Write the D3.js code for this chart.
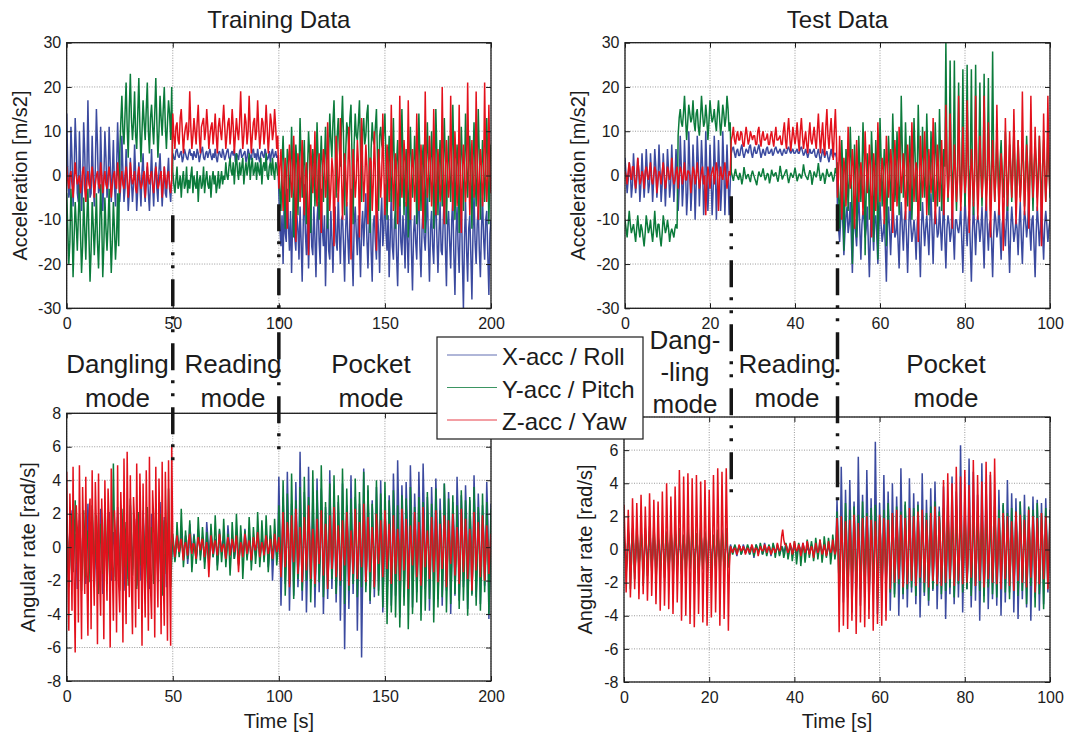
<!DOCTYPE html>
<html>
<head>
<meta charset="utf-8">
<script src="https://cdn.jsdelivr.net/npm/d3@7"></script>
<style>
  body { margin: 0; background: #fff; }
  svg { display: block; }
</style>
</head>
<body>
<svg id="chart" width="1070" height="736"></svg>
<script>
// ---- data ---------------------------------------------------------------
// training record: one sample every 0.5 s, 0..200 s
var trainStep = 0.5;
// test record: one sample every 0.25 s, 0..100 s
var testStep = 0.25;

var trainTimeTicks = [0, 50, 100, 150, 200];
var testTimeTicks = [0, 20, 40, 60, 80, 100];
var accTicks = [-30, -20, -10, 0, 10, 20, 30];
var gyroTicks = [-8, -6, -4, -2, 0, 2, 4, 6, 8];

var seriesNames = ["X-acc / Roll", "Y-acc / Pitch", "Z-acc / Yaw"];

// mode changes (s)
var trainModeBounds = [50, 100];
var testModeBounds = [25, 50];
var trainModeLabels = [["Dangling", "mode"], ["Reading", "mode"], ["Pocket", "mode"]];
var testModeLabels = [["Dang-", "-ling", "mode"], ["Reading", "mode"], ["Pocket", "mode"]];

// acceleration, training [m/s2]  (20 samples = 10 s per row)
var trainAccX = [
  14, 2, -5, -3, 11, 4, -7, 0, 13, 6, -4, -6, 10, 1, -8, -2, 12, 5, -6, -1,
  17, 3, -5, -4, 9, 0, -7, 2, 15, 7, -4, -3, 11, 1, -8, -1, 10, 4, -5, -2,
  11, 3, -6, 0, 8, -2, -7, 1, 12, 4, -6, -2, 9, 1, -6, -3, 6, 0, -8, -4,
  4, -1, -6, -2, 7, 0, -8, -3, 3, -2, -7, 1, 5, -3, -6, 0, 2, -4, -8, -1,
  6, -2, -7, 0, 3, -3, -6, 1, 5, -1, -7, -2, 2, -4, -5, 0, 4, -3, -6, -1,
  5, 4, 3.5, 5.5, 6, 4.5, 4, 5, 5.5, 3, 4, 6, 5, 4, 3.5, 5, 6, 4.5, 5, 3.5,
  5.5, 4.5, 4, 6, 5, 3, 4.5, 5.5, 6.5, 4, 3.5, 5, 5.5, 4, 5, 6, 4.5, 3.5, 5, 4,
  6, 4, 3, 5, 5.5, 4.5, 4, 6, 5, 3.5, 4.5, 5.5, 6, 4, 3.5, 5, 5.5, 4.5, 6, 3,
  5, 4.5, 3.5, 5.5, 6, 4, 4.5, 5, 5.5, 3, 4, 6, 5, 4.5, 3.5, 5.5, 6, 4, 5, 3.5,
  6, 4, 3, 5, 5.5, 4.5, 4, 6, 5, 3.5, 4, 5.5, 3, 5, 6, 4, 4.5, 5.5, 4, 4.5,
  -4, -12, -16, -9, -20, -6, -13, -15, -3, -11, -17, -8, -22, -10, -5, -14, -17, -9, -12, -19,
  -7, -15, -24, -11, -2, -13, -18, -9, -21, -12, -4, -16, -18, -7, -14, -23, -10, -6, -15, -20,
  -3, -12, -16, -9, -25, -13, -5, -17, -19, -8, -14, -22, -11, -7, -15, -17, -4, -13, -20, -10,
  -9, -16, -24, -12, -6, -14, -20, -10, -3, -17, -25, -11, -7, -13, -18, -9, -15, -23, -12, -8,
  -16, -10, -4, -14, -21, -12, -6, -17, -24, -11, -9, -15, -19, -8, -13, -22, -10, -5, -16, -12,
  -2, -13, -17, -9, -23, -14, -4, -16, -19, -10, -8, -18, -25, -12, -3, -15, -18, -9, -13, -21,
  -6, -14, -22, -11, -5, -17, -26, -13, -9, -15, -19, -8, -4, -16, -23, -12, -7, -14, -17, -10,
  -3, -15, -24, -12, -8, -16, -20, -9, -5, -14, -22, -13, -6, -17, -18, -10, -4, -16, -25, -11,
  -8, -15, -21, -10, -5, -18, -27, -13, -7, -16, -22, -11, -3, -19, -30, -14, -6, -17, -24, -12,
  -9, -18, -28, -13, -4, -15, -20, -11, -7, -17, -23, -12, -5, -14, -19, -10, -8, -18, -27, -13,
  -10
];
var trainAccY = [
  -4, -12, -20, -15, -3, -10, -23, -14, -6, -11, -17, -9, -2, -13, -22, -16, -5, -12, -19, -10,
  -3, -14, -24, -17, -6, -11, -18, -12, -4, -15, -21, -13, -2, -10, -23, -16, -5, -12, -17, -11,
  -3, -13, -22, -15, -6, -12, -19, -14, -4, -16, 5, 12, 18, 10, 7, 14, 21, 11, 4, 15,
  23, 13, 8, 12, 19, 9, 6, 14, 22, 11, 3, 10, 17, 12, 8, 15, 21, 10, 5, 13,
  16, 11, 7, 14, 22, 12, 4, 10, 18, 13, 9, 15, 20, 11, 6, 12, 17, 14, 8, 20,
  1, -2, -4, -1, 2, -3, -2, 0, -5, -1, 1, -3, -2, 2, -4, -1, -3, 0, 2, -4,
  0, -2, -3, 1, -6, -1, 0, -3, -2, 2, -4, -1, 1, -2, -3, 0, -5, -1, 1, -2,
  0, -4, -2, 1, -3, -1, 1, -2, 0, -1, 3, 0, -1, 2, 4, 1, 0, 3, -2, 2,
  5, 1, -1, 3, 0, 2, 4, -2, 1, 3, 0, 2, 5, -1, 2, 4, 0, 1, 3, -1,
  3, 1, 0, 4, -2, 2, 3, 1, 5, 0, -1, 2, 3, 0, 4, 1, -1, 3, 2, 0,
  2, -4, -8, 3, 9, 1, -12, -3, 6, 4, -6, 0, 11, 2, -14, -2, 7, 3, -9, 1,
  13, 4, -5, 2, 8, -3, -11, 1, 10, 5, -13, -1, 6, 3, -7, 0, 12, 4, -10, 2,
  9, 1, -6, 3, 11, 2, -12, 5, 14, 8, 4, 12, 17, 7, -5, 9, 13, 6, 2, 11,
  18, 8, -9, 5, 12, 10, 6, 13, 16, 4, -11, 7, 14, 9, 8, 12, 17, 5, -6, 10,
  13, 7, 9, 14, 16, 3, -13, 6, 12, 8, 7, 11, 15, 4, -8, 9, 11, 7, 6, 10,
  14, 3, -10, 2, 9, 0, -6, 4, 13, 1, -12, 3, 8, -1, -7, 2, 15, 4, -9, 1,
  6, -2, -14, 3, 11, 2, -5, 0, 9, 3, -11, 1, 14, 4, -8, 2, 7, -1, -13, 3,
  12, 2, -6, 1, 10, 3, -12, 0, 15, 5, -9, 2, 8, 0, -7, 3, 13, 2, -11, 1,
  9, 1, -6, 3, 16, 4, -10, 0, 7, 2, -13, 1, 11, 3, -8, 0, 14, 4, -5, 2,
  9, 0, -12, 3, 12, 1, -7, 2, 15, 4, -10, 0, 8, 2, -6, 1, 13, 3, -11, 2,
  7
];
var trainAccZ = [
  2, -1, -3, 0, 1, -2, -5, -1, 3, 0, -2, -1, 0, -4, -2, 1, 2, -3, -6, -1,
  1, -2, -3, 0, 2, -1, -5, -2, 0, 1, -2, -3, 3, 0, -4, -1, 1, -2, -3, 0,
  2, -1, -5, -2, 0, 1, -2, -3, 3, 0, -4, -1, 1, -2, -3, 0, 2, -1, -5, -2,
  3, 0, -2, -1, 1, -3, -4, 0, 2, -1, -3, -2, 0, 1, -5, -2, 3, -1, -2, 0,
  1, -2, -4, -1, 2, 0, -3, -2, 0, 1, -5, -2, 2, -1, -3, 0, 1, -2, -4, -1,
  14, 9, 6, 11, 12, 8, 7, 13, 15, 10, 5, 9, 11, 12, 8, 10, 19, 11, 6, 9,
  13, 10, 7, 12, 16, 9, 5, 11, 12, 13, 8, 10, 15, 11, 6, 9, 11, 12, 7, 10,
  14, 9, 5, 11, 13, 10, 8, 12, 16, 11, 6, 9, 12, 13, 7, 10, 15, 11, 5, 9,
  13, 10, 8, 12, 19, 11, 6, 9, 14, 12, 7, 10, 18, 11, 5, 9, 12, 13, 8, 10,
  17, 11, 6, 9, 13, 12, 7, 10, 16, 11, 5, 9, 14, 12, 8, 10, 15, 11, 6, 9,
  -3, 2, 6, -1, -8, 0, 4, -4, -12, 1, 7, 3, -5, -2, 9, 1, -15, -3, 5, 2,
  -6, 1, 8, -2, -9, 0, 3, -5, -18, -1, 7, 2, -4, 0, 10, -3, -7, 1, 5, -2,
  -13, 0, 6, 3, -5, -1, 12, 2, -8, -3, 4, 1, -16, -2, 9, 3, -6, 0, 13, 1,
  -10, -2, 5, 1, -7, 0, 11, 2, -19, -3, 6, 1, -5, -1, 8, 3, -14, 0, 13, 2,
  -6, -1, 7, 2, -11, 0, 4, 3, -8, -2, 10, 1, -17, -3, 6, 2, -5, 0, 14, 1,
  -9, -2, 7, 3, -6, 0, 16, 2, -8, -1, 5, 1, -11, -3, 18, 2, -5, 0, 8, 3,
  -7, -1, 17, 2, -10, 0, 6, 1, -6, -2, 14, 3, -8, 0, 7, 1, -12, -2, 19, 2,
  -5, 0, 9, 3, -7, -1, 15, 2, -9, 0, 6, 1, -6, -2, 20, 3, -11, 0, 8, 2,
  -5, -1, 18, 2, -8, 0, 10, 3, -7, -2, 16, 1, -13, 0, 7, 2, -6, -1, 21, 3,
  -9, 0, 8, 1, -5, -2, 19, 3, -10, 0, 6, 2, -7, -1, 21, 2, -6, 0, 16, 1,
  -4
];

// acceleration, test [m/s2]  (20 samples = 5 s per row)
var testAccX = [
  4, 0, -4, -1, 3, 1, -5, -2, 5, 0, -4, -1, 4, 1, -6, -2, 5, 0, -5, -1,
  6, 1, -4, -2, 5, 0, -6, -1, 6, 2, -5, -1, 7, 1, -6, -2, 5, 0, -7, -1,
  6, 1, -5, -2, 7, 0, -6, -1, 6, 1, -8, -3, 9, 2, -7, -2, 8, 1, -9, -4,
  10, 2, -8, -3, 7, 1, -10, -2, 9, 3, -7, -1, 8, 2, -9, -3, 10, 1, -8, -2,
  7, 0, -9, -3, 9, 2, -10, -2, 8, 1, -8, -3, 10, 2, -9, -1, 7, 0, -9, -2,
  5, 6, 6.5, 5, 4, 5.5, 6, 4.5, 4.5, 6, 7, 5, 4, 5, 6, 5.5, 5, 6.5, 7, 5,
  4, 5.5, 6.5, 5, 5, 6, 7, 5.5, 4, 5, 6, 5, 4.5, 6, 6.5, 5, 5, 5.5, 6, 4.5,
  5, 6, 6.5, 5.5, 5, 5.5, 6, 5, 4.5, 5.5, 6, 5, 5, 6, 6.5, 5.5, 5, 5.5, 6, 5,
  5, 5.5, 6, 5, 5, 6, 6.5, 5.5, 4.5, 5, 6, 5, 4, 5, 6, 5, 5, 5.5, 6, 4.5,
  4, 5, 6, 4.5, 3, 4.5, 6, 5, 4, 5, 5.5, 4, 3, 4.5, 6, 4.5, 4, 5, 5, 4,
  -8, -12, -15, -10, -5, -11, -18, -13, -9, -7, -13, -11, -6, -14, -22, -12, -10, -13, -16, -9,
  -4, -12, -19, -11, -8, -10, -14, -12, -7, -15, -23, -13, -5, -11, -17, -10, -9, -14, -20, -12,
  -6, -11, -15, -13, -10, -16, -24, -12, -7, -12, -18, -11, -5, -10, -14, -13, -9, -15, -21, -11,
  -6, -12, -17, -10, -8, -14, -22, -12, -5, -11, -15, -13, -10, -13, -19, -11, -7, -15, -23, -12,
  -6, -11, -16, -12, -9, -13, -18, -10, -4, -12, -20, -11, -8, -10, -14, -13, -7, -12, -17, -11,
  -5, -14, -21, -12, -9, -11, -15, -13, -6, -13, -19, -10, -10, -12, -13, -11, -7, -15, -22, -12,
  -5, -11, -16, -10, -8, -16, -24, -13, -6, -12, -18, -11, -9, -11, -15, -12, -7, -14, -21, -10,
  -5, -12, -17, -11, -10, -15, -23, -13, -8, -10, -14, -12, -6, -13, -19, -11, -9, -12, -16, -10,
  -5, -15, -22, -12, -7, -11, -15, -13, -10, -12, -18, -11, -6, -14, -20, -12, -8, -10, -14, -11,
  -5, -12, -17, -10, -9, -16, -23, -13, -7, -11, -16, -12, -6, -13, -19, -11, -8, -11, -15, -12,
  -10
];
var testAccY = [
  -10, -12, -14, -11, -8, -11, -13, -12, -11, -13, -15, -12, -9, -12, -14, -11, -12, -14, -16, -13,
  -9, -11, -13, -12, -10, -13, -15, -12, -8, -12, -14, -11, -11, -14, -16, -13, -9, -11, -13, -12,
  -10, -12, -15, -13, -12, -13, -14, -12, -11, -12, 9, 13, 15, 12, 11, 14, 18, 13, 8, 12,
  16, 14, 12, 13, 17, 12, 10, 14, 15, 11, 9, 13, 18, 14, 11, 12, 16, 13, 8, 12,
  17, 14, 12, 13, 15, 12, 10, 14, 17, 13, 9, 12, 16, 14, 11, 13, 18, 15, 10, 12,
  0.8, -0.2, -1.2, 0.3, 1.5, 0.1, -0.4, -1.0, 0.6, -0.3, -2.0, -0.6, 1.9, 0.4, -0.8, 0.0, 0.3, -0.7, -1.5, 0.2,
  1.1, 0.2, -0.6, -1.3, -2.2, -0.5, 0.9, 0.1, -0.3, 0.6, 1.6, 0.0, -1.1, -0.4, 0.5, 0.2, -1.8, -0.6, 1.3, 0.3,
  -0.2, 0.4, 0.7, -0.5, -1.4, 0.1, 2.2, 0.6, -0.9, -0.2, 0.2, 0.9, 1.4, -0.3, -1.7, -0.6, 0.6, 0.1, -0.5, 0.3,
  1.8, 0.3, -1.3, -0.4, 0.4, 0.0, -0.7, 0.5, 2.5, 0.8, -0.1, -0.5, -1.0, 0.2, 1.2, 0.4, -2.1, -0.6, 0.9, 0.1,
  -0.4, 0.9, 2.8, 0.6, -1.2, -0.3, 0.6, 0.1, -1.9, -0.5, 1.5, 0.4, -0.3, 0.2, 0.8, -0.2, -1.4, -0.3, 1.7, 0.5,
  3, -4, -12, -2, 8, 1, -17, -5, 6, 2, -8, -1, 11, 3, -20, -6, 7, 0, -14, -3,
  9, 2, -6, 0, 12, 4, -18, -4, 5, 1, -10, -2, 10, 3, -15, -3, 8, 2, -19, -5,
  13, 4, -7, -1, 6, 2, -16, -3, 9, 3, -8, 0, 14, 5, -6, -1, 10, 3, -9, -2,
  18, 6, -5, 0, 12, 4, -7, -1, 9, 2, -10, -2, 13, 5, -6, 0, 16, 4, -8, -1,
  11, 3, -5, 0, 14, 5, -9, -2, 10, 2, -6, 0, 12, 4, -7, -1, 15, 5, -8, -2,
  6, 2, 30, 3, -6, 1, 26, 2, -5, 3, 26, 0, -8, 2, 21, 1, -6, 3, 24, 2,
  -7, 1, 25, 3, -5, 2, 24, 0, -9, 1, 25, 2, -6, 3, 21, 1, -7, 2, 23, 0,
  -5, 2, 22, 1, -8, 3, 28, 2, -6, 0, 9, 1, -7, 3, 8, 0, -5, 2, 10, 1,
  -8, 0, 7, 2, -6, 3, 10, 1, -9, 2, 8, 0, -5, 1, 6, 3, -7, 0, 9, 2,
  -6, 1, 8, 0, -8, 2, 7, 3, -5, 1, 9, 0, -7, 2, 8, 1, -6, 0, 10, 2,
  -5
];
var testAccZ = [
  1, 0, -2, 1, 3, 0, -1, 2, 2, -1, -3, 0, 4, 1, -2, -1, 1, 0, -3, 1,
  2, 0, -1, 1, 3, -1, -2, 0, 2, 1, -4, -1, 1, 0, -2, 1, 3, 0, -3, -1,
  2, 1, -1, 0, 4, 0, -2, -1, 1, 2, -3, 0, 2, 1, -2, 0, 3, -1, -1, 1,
  1, 0, -4, -1, 2, 1, -2, 0, 3, 0, -3, -1, 1, 2, -2, 0, -9, -2, 2, 0,
  -3, 0, 1, 2, -2, 0, 3, 1, -8, -1, 2, 0, -1, 1, 3, 0, -3, -1, 1, 0,
  8, 9, 11, 8, 7, 9, 10, 8, 8, 10, 9.5, 7, 6.5, 9, 11, 9, 7, 8, 10, 9,
  8, 9, 9, 7, 7, 10, 11, 8, 6.5, 9, 10, 8, 8, 8.5, 9.5, 7, 7, 9, 10, 8,
  6.5, 9, 11, 8, 8, 8.5, 9, 7, 7, 10, 12, 8, 6, 10, 13, 9, 5.5, 8, 11, 9,
  7, 9, 12, 8, 5.5, 10, 13, 9, 6, 8, 10, 7, 5, 9, 12, 8, 7, 9, 11, 8,
  6, 10, 14, 9, 5, 9, 12, 7, 4.5, 11, 15, 9, 6, 10, 13, 8, 3.5, 10, 15, 8,
  -5, 0, 9, 2, -10, -3, 4, 1, -7, 0, 11, 3, -3, -1, 6, 2, -12, -4, 8, 1,
  -6, -1, 3, 0, -9, -2, 10, 3, -4, 0, 7, 2, -14, -3, 5, 1, -8, -2, 12, 3,
  -6, 0, 4, 1, -11, -2, 9, 2, -5, -1, 6, 3, -13, -3, 8, 2, -7, -1, 11, 3,
  -4, 0, 5, 1, -10, -3, 7, 2, -8, -1, 12, 3, -6, 0, 3, 1, -15, -4, 9, 2,
  -5, -1, 10, 3, -9, -2, 6, 1, -4, 0, 13, 3, -11, -3, 7, 2, -6, -1, 8, 1,
  -9, -2, 16, 3, -5, 0, 14, 2, -12, -3, 7, 1, -6, -1, 18, 3, -8, -2, 11, 2,
  -4, 0, 17, 3, -13, -3, 6, 1, -7, -1, 18, 3, -10, -2, 9, 2, -5, 0, 18, 2,
  -8, -1, 12, 2, -14, -3, 8, 1, -6, 0, 16, 3, -9, -2, 5, 1, -17, -4, 13, 2,
  -7, -1, 10, 2, -5, 0, 15, 3, -11, -3, 8, 1, -6, -1, 19, 3, -9, -2, 7, 1,
  -12, -2, 18, 3, -5, 0, 11, 2, -8, -1, 9, 2, -16, -3, 14, 2, -6, 0, 18, 2,
  -4
];

// angular rate, training [rad/s]
var trainGyroX = [
  1.5, 0.3, -2.0, -0.5, 2.2, 0.6, -1.3, 0.1, 0.8, -0.4, -2.5, -0.8, 2.0, 0.5, -1.7, -0.2, 1.2, 0.3, -2.2, -0.6,
  2.6, 0.7, -1.0, 0.2, 1.8, 0.4, -2.4, -0.7, 1.0, 0.1, -1.6, -0.3, 2.3, 0.6, -2.8, -0.9, 1.4, 0.2, -1.2, -0.1,
  2.1, 0.5, -2.0, -0.6, 0.9, 0.2, -1.8, -0.4, 2.4, 0.7, -1.5, -0.2, 1.6, 0.3, -2.6, -0.8, 1.1, 0.1, -1.9, -0.5,
  2.5, 0.6, -1.3, -0.1, 1.7, 0.4, -2.3, -0.7, 0.9, 0.2, -2.0, -0.5, 2.2, 0.5, -1.4, -0.2, 1.3, 0.3, -2.5, -0.8,
  2.0, 0.4, -1.7, -0.3, 1.5, 0.2, -2.1, -0.6, 2.7, 0.8, -1.2, -0.1, 1.8, 0.5, -2.4, -0.7, 1.2, 0.3, -1.6, -0.4,
  0.5, -0.2, -0.8, 0.1, 0.9, 0.3, -0.4, 0.0, 1.2, 0.2, -0.6, -0.1, 0.7, 0.4, -1.0, -0.3, 1.4, 0.5, -0.3, 0.1,
  0.8, 0.0, -0.7, -0.2, 1.1, 0.3, -0.5, 0.1, 0.6, -0.1, -0.9, -0.3, 1.5, 0.6, -0.4, 0.0, 0.9, 0.2, -0.6, -0.1,
  0.5, 0.1, -1.1, -0.4, 1.0, 0.3, -0.3, 0.2, 0.7, 0.0, -0.8, -0.2, 1.3, 0.4, -0.5, 0.1, 0.4, -0.1, -0.7, -0.2,
  0.9, 0.2, -1.0, -0.3, 0.6, 0.1, -0.4, 0.0, 1.1, 0.3, -0.6, -0.1, 0.8, 0.2, -0.9, -0.3, 0.5, 0.1, -0.5, 0.0,
  1.0, 0.3, -0.7, -0.2, 0.6, 0.1, -0.4, 0.0, 0.9, 0.2, -1.2, -0.4, 0.7, 0.1, -2.0, -0.6, 0.4, 0.0, -0.5, -0.1,
  4.2, 1.0, -3.5, -0.8, 3.0, 0.5, -2.2, 0.2, 4.5, 1.2, -3.8, -1.0, 2.6, 0.4, -2.9, -0.3, 3.9, 0.9, -2.4, -0.5,
  5.7, 1.4, -3.2, -0.6, 3.3, 0.8, -3.9, -1.1, 4.8, 1.0, -2.0, -0.2, 2.9, 0.6, -3.6, -0.9, 4.1, 1.1, -2.7, -0.4,
  3.5, 0.7, -4.0, -1.2, 2.4, 0.3, -3.1, -0.5, 4.6, 1.2, -2.5, -0.3, 3.2, 0.6, -3.3, -0.8, 2.7, 0.4, -4.4, -1.3,
  3.8, 0.9, -6.1, -1.5, 2.5, 0.5, -3.7, -0.9, 4.3, 1.0, -2.8, -0.4, 3.0, 0.7, -5.0, -1.2, 2.6, 0.3, -6.6, -1.7,
  4.7, 1.2, -2.3, -0.2, 3.4, 0.8, -3.4, -0.7, 2.8, 0.6, -3.0, -0.6, 3.6, 0.9, -2.6, -0.3, 4.0, 1.1, -3.9, -1.0,
  2.3, 0.6, -3.1, -0.6, 3.1, 1.4, -3.5, -0.8, 4.4, 1.9, -2.9, -0.5, 5.2, 2.0, -4.2, -1.0, 3.7, 1.5, -3.0, -0.4,
  3.9, 1.6, -2.4, -0.3, 4.9, 2.1, -3.6, -0.9, 3.2, 1.3, -2.7, -0.5, 4.5, 1.8, -3.3, -0.7, 5.0, 2.2, -2.5, -0.2,
  3.0, 1.2, -3.8, -1.0, 3.6, 1.5, -2.2, -0.1, 4.1, 1.7, -3.1, -0.6, 2.9, 1.1, -3.5, -0.8, 3.8, 1.6, -2.6, -0.4,
  3.3, 1.3, -4.0, -1.1, 2.7, 1.0, -2.9, -0.5, 4.2, 1.8, -3.2, -0.7, 3.1, 1.2, -2.4, -0.3, 3.7, 1.5, -3.7, -0.9,
  2.8, 1.0, -2.8, -0.5, 4.3, 1.7, -3.0, -0.6, 3.2, 1.3, -3.4, -0.8, 2.5, 0.9, -2.3, -0.2, 3.9, 1.6, -4.3, -1.1,
  2.6
];
var trainGyroY = [
  1.2, 0.2, -2.4, -0.7, 2.0, 0.5, -1.5, -0.2, 2.8, 0.6, -1.0, 0.1, 1.6, 0.3, -2.6, -0.8, 2.2, 0.4, -1.8, -0.3,
  1.0, 0.1, -2.1, -0.5, 2.5, 0.7, -1.3, -0.1, 1.9, 0.4, -2.8, -0.9, 1.4, 0.2, -1.6, -0.4, 2.7, 0.6, -2.2, -0.6,
  1.1, 0.3, -1.4, -0.2, 5.0, 1.2, -2.0, -0.5, 1.8, 0.4, -2.6, -0.7, 2.3, 0.5, -1.2, 0.0, 1.5, 0.3, -2.3, -0.6,
  2.9, 0.7, -1.7, -0.3, 1.3, 0.2, -2.5, -0.8, 2.1, 0.5, -1.1, -0.1, 1.7, 0.4, -2.7, -0.9, 2.4, 0.6, -1.9, -0.4,
  1.2, 0.2, -2.2, -0.6, 2.6, 0.6, -1.4, -0.2, 2.0, 0.4, -2.9, -0.9, 1.6, 0.3, -1.6, -0.3, 3.5, 0.9, -2.4, -0.7,
  0.8, 0.1, -0.9, -0.3, 1.5, 0.4, -0.6, 0.0, 2.3, 0.6, -1.2, -0.4, 1.0, 0.2, -0.7, 0.1, 1.6, 0.3, -1.5, -0.5,
  0.7, 0.0, -1.0, -0.2, 1.8, 0.5, -0.8, -0.1, 1.2, 0.3, -1.3, -0.4, 0.9, 0.2, -1.1, -0.3, 1.4, 0.4, -0.6, 0.0,
  1.9, 0.5, -1.4, -0.4, 1.1, 0.2, -0.9, -0.1, 1.7, 0.4, -1.2, -0.3, 0.8, 0.1, -1.7, -0.5, 1.5, 0.4, -0.7, 0.0,
  2.0, 0.6, -1.1, -0.3, 1.3, 0.3, -1.9, -0.6, 1.0, 0.2, -0.8, -0.1, 1.8, 0.5, -1.4, -0.4, 1.2, 0.3, -1.0, -0.2,
  2.1, 0.6, -1.2, -0.3, 1.6, 0.4, -0.9, -0.1, 1.9, 0.5, -1.5, -0.4, 1.3, 0.3, -0.8, 0.0, 1.7, 0.4, -1.1, -0.3,
  2.5, 0.6, -1.8, -0.3, 4.0, 1.1, -2.9, -0.8, 3.2, 0.9, -2.2, -0.5, 4.4, 1.3, -3.1, -0.9, 2.8, 0.7, -1.9, -0.4,
  3.6, 1.0, -2.6, -0.7, 4.2, 1.2, -2.0, -0.4, 3.0, 0.8, -3.3, -1.0, 4.6, 1.4, -2.4, -0.6, 3.4, 0.9, -2.1, -0.5,
  4.9, 1.5, -3.0, -0.9, 2.7, 0.6, -2.5, -0.6, 3.8, 1.1, -1.9, -0.3, 4.3, 1.2, -2.8, -0.8, 3.1, 0.8, -2.3, -0.5,
  4.7, 1.4, -3.4, -1.0, 3.5, 0.9, -2.6, -0.7, 2.9, 0.7, -2.2, -0.5, 4.1, 1.2, -3.0, -0.8, 3.3, 0.9, -2.4, -0.6,
  4.5, 1.3, -2.7, -0.7, 3.7, 1.0, -3.2, -0.9, 2.6, 0.6, -2.5, -0.6, 4.0, 1.1, -2.9, -0.8, 3.2, 0.8, -3.6, -1.1,
  3.9, 0.7, -4.6, -1.6, 2.8, 0.4, -3.9, -1.3, 3.4, 0.6, -4.2, -1.5, 2.5, 0.3, -4.8, -1.8, 3.1, 0.5, -3.5, -1.2,
  2.9, 0.4, -4.9, -1.8, 3.6, 0.7, -4.0, -1.4, 2.4, 0.3, -3.3, -1.1, 3.0, 0.5, -4.4, -1.6, 2.7, 0.4, -3.8, -1.3,
  3.3, 0.6, -3.1, -1.0, 2.6, 0.4, -4.5, -1.6, 3.5, 0.7, -3.6, -1.2, 2.2, 0.2, -3.0, -0.9, 3.8, 0.8, -3.9, -1.4,
  2.9, 0.5, -3.4, -1.1, 3.1, 0.6, -2.8, -0.8, 2.5, 0.3, -3.7, -1.3, 3.4, 0.7, -3.2, -1.0, 2.8, 0.5, -4.1, -1.5,
  3.0, 0.6, -2.9, -0.9, 3.6, 0.8, -3.5, -1.2, 2.4, 0.3, -3.8, -1.4, 3.2, 0.7, -2.7, -0.8, 2.7, 0.5, -4.0, -1.4,
  2.3
];
var trainGyroZ = [
  4.5, -1.2, -5.0, 3.2, 0.8, -3.8, 4.8, -2.0, -6.3, 2.5, 1.1, -4.5, 4.9, -0.6, -5.5, 3.6, 0.4, -2.8, 4.2, -1.5,
  -5.3, 1.8, 2.9, -4.9, 4.6, -0.9, -3.5, 3.9, 1.2, -5.8, 4.4, -1.8, -4.1, 2.9, 0.3, -5.5, 4.0, -0.4, -3.2, 3.5,
  1.5, -6.0, 4.7, -1.1, -4.4, 2.2, 0.6, -5.1, 4.9, -2.2, -3.9, 3.3, 1.0, -5.7, 5.3, -0.8, -4.6, 5.7, 0.2, -3.0,
  4.3, -1.9, -5.2, 3.0, 1.4, -4.8, 5.0, -0.5, -3.7, 4.4, 0.9, -5.9, 3.8, -1.3, -4.2, 4.6, 0.1, -5.0, 5.4, -2.4,
  -4.3, 3.4, 1.7, -5.4, 4.8, -0.7, -3.6, 4.1, 0.5, -5.2, 5.1, -1.6, -4.7, 4.5, 0.8, -5.6, 5.2, -1.0, -5.9, 6.1,
  0.4, -0.1, -0.6, 0.2, 0.7, 0.0, -0.3, 0.3, 0.5, -0.2, -0.8, 0.1, 0.3, -0.1, -0.5, 0.4, 0.8, 0.0, -0.4, 0.2,
  0.2, -0.3, -0.7, 0.1, 0.6, 0.2, -0.2, 0.3, 0.5, -0.1, -0.6, 0.0, 0.3, -0.4, -1.8, -0.5, 0.7, 0.1, -0.4, 0.2,
  0.4, 0.0, -0.5, 0.1, 0.8, 0.3, -0.3, 0.0, 0.2, -0.2, -0.7, 0.1, 0.6, 0.2, -0.5, 0.0, 0.5, 0.1, -0.3, 0.2,
  0.7, -0.2, -1.5, -0.4, 0.3, 0.1, -0.6, 0.0, 0.8, 0.2, -0.4, 0.1, 0.4, -0.1, -0.8, -0.2, 0.6, 0.1, -0.2, 0.3,
  0.9, 0.1, -0.6, -0.1, 0.3, 0.0, -0.5, 0.2, 0.7, 0.1, -0.4, 0.0, 0.5, -0.1, -0.7, -0.2, 0.8, 0.2, -0.3, 0.1,
  0.6, -0.4, -1.8, 0.3, 2.1, 0.5, -1.2, -0.2, 1.5, 0.8, -2.4, -0.6, 1.9, 0.2, -0.9, 0.4, 2.3, 0.6, -1.6, -0.3,
  1.2, 0.1, -2.1, -0.5, 1.8, 0.4, -1.4, 0.0, 2.5, 0.7, -1.9, -0.4, 1.1, 0.2, -2.2, -0.6, 1.7, 0.3, -1.0, 0.1,
  2.2, 0.5, -1.7, -0.3, 1.4, 0.1, -2.5, -0.7, 1.9, 0.4, -1.3, -0.1, 2.4, 0.6, -1.8, -0.4, 1.3, 0.2, -2.0, -0.5,
  1.6, 0.3, -1.1, 0.0, 2.1, 0.5, -2.3, -0.6, 1.0, 0.1, -1.6, -0.3, 2.3, 0.6, -1.9, -0.4, 1.5, 0.3, -1.2, 0.0,
  2.6, 0.7, -2.1, -0.5, 1.8, 0.4, -1.5, -0.2, 1.2, 0.1, -2.4, -0.6, 2.0, 0.5, -1.0, 0.1, 1.6, 0.3, -1.8, -0.4,
  2.2, 0.6, -1.3, -0.1, 1.4, 0.3, -2.2, -0.5, 1.9, 0.4, -1.6, -0.3, 1.1, 0.2, -2.0, -0.6, 2.3, 0.7, -1.4, -0.2,
  1.7, 0.4, -2.5, -0.7, 1.3, 0.2, -1.1, 0.0, 2.1, 0.5, -1.8, -0.4, 1.5, 0.3, -2.3, -0.6, 2.4, 0.6, -1.2, -0.1,
  1.0, 0.1, -1.9, -0.5, 1.8, 0.4, -1.5, -0.3, 2.2, 0.6, -2.1, -0.5, 1.4, 0.2, -1.3, -0.2, 1.9, 0.5, -2.4, -0.6,
  1.6, 0.3, -1.0, 0.0, 2.0, 0.5, -1.7, -0.4, 1.2, 0.2, -2.2, -0.6, 2.3, 0.6, -1.5, -0.3, 1.7, 0.4, -1.9, -0.5,
  1.1, 0.2, -2.6, -0.7, 2.1, 0.5, -1.4, -0.2, 1.5, 0.3, -1.8, -0.4, 1.9, 0.5, -2.0, -0.5, 1.3, 0.2, -1.6, -0.3,
  0.8
];

// angular rate, test [rad/s]
var testGyroX = [
  0.8, 0.2, -1.2, -0.3, 1.1, 0.4, -0.9, -0.1, 1.3, 0.3, -1.4, -0.4, 0.7, 0.1, -1.0, -0.2, 1.2, 0.3, -1.3, -0.5,
  0.9, 0.2, -0.8, -0.1, 1.4, 0.4, -1.1, -0.3, 1.0, 0.1, -1.5, -0.4, 0.8, 0.2, -0.9, -0.2, 1.2, 0.3, -1.2, -0.3,
  1.1, 0.3, -1.4, -0.4, 0.9, 0.1, -1.0, -0.2, 1.3, 0.4, -1.1, -0.3, 1.0, 0.2, -1.3, -0.4, 0.8, 0.1, -0.9, -0.2,
  1.4, 0.4, -1.2, -0.3, 1.1, 0.2, -1.0, -0.2, 0.9, 0.1, -1.4, -0.4, 1.2, 0.3, -0.8, -0.1, 1.0, 0.2, -1.3, -0.3,
  1.3, 0.3, -1.1, -0.2, 0.8, 0.1, -1.2, -0.3, 1.1, 0.2, -0.9, -0.2, 1.2, 0.4, -1.4, -0.4, 0.9, 0.2, -1.0, -0.3,
  0.3, 0.0, -0.2, 0.1, 0.2, -0.1, -0.4, 0.0, 0.1, 0.2, -0.3, -0.1, 0.3, 0.1, -0.2, 0.0, 0.2, -0.1, -0.3, 0.1,
  0.1, 0.0, -0.5, -0.1, 0.3, 0.1, -0.2, 0.0, 0.2, 0.1, -0.3, -0.1, 0.4, 0.1, -0.1, 0.0, 0.2, 0.0, -0.4, -0.1,
  0.3, 0.1, -0.2, 0.0, 0.1, 0.0, -0.3, -0.1, 0.2, 0.1, -0.2, 0.0, 0.3, 0.1, -0.4, -0.1, 0.2, 0.0, -0.1, 0.1,
  0.3, 0.0, -0.3, -0.1, 0.2, 0.1, -0.2, 0.0, 0.4, 0.1, -0.3, -0.1, 0.1, 0.0, -0.2, 0.1, 0.3, 0.0, -0.4, -0.1,
  0.2, 0.0, -0.3, 0.0, 0.3, 0.1, -0.2, 0.0, 0.4, 0.1, -0.3, -0.1, 0.2, 0.0, -0.4, -0.1, 0.3, 0.1, -0.2, 0.0,
  3.0, 0.8, -2.8, -0.6, 5.0, 1.2, -3.2, -0.9, 3.6, 0.7, -2.4, -0.4, 4.2, 1.0, -3.8, -1.1, 2.9, 0.6, -2.6, -0.5,
  5.6, 1.4, -3.4, -0.8, 3.3, 0.6, -2.9, -0.7, 4.8, 1.1, -3.6, -1.0, 3.1, 0.5, -2.2, -0.3, 6.5, 1.6, -3.9, -1.2,
  2.8, 0.5, -3.1, -0.8, 4.5, 1.0, -2.5, -0.5, 3.5, 0.8, -3.7, -1.0, 4.0, 0.9, -2.7, -0.6, 3.2, 0.7, -4.0, -1.1,
  4.9, 1.2, -3.0, -0.7, 2.7, 0.4, -3.5, -0.9, 4.3, 1.0, -2.6, -0.5, 3.4, 0.8, -3.3, -0.8, 2.9, 0.5, -4.1, -1.2,
  4.6, 1.1, -2.8, -0.6, 3.0, 0.6, -3.4, -0.9, 3.7, 0.9, -2.5, -0.4, 4.1, 1.0, -3.6, -1.0, 2.6, 0.5, -3.0, -0.7,
  3.8, 0.9, -4.2, -1.2, 3.1, 0.6, -2.7, -0.5, 4.4, 1.1, -3.3, -0.8, 3.5, 0.8, -2.9, -0.6, 6.3, 1.5, -3.8, -1.0,
  3.2, 0.7, -2.4, -0.4, 5.5, 1.3, -3.5, -0.9, 4.7, 1.1, -3.1, -0.7, 3.3, 0.7, -4.3, -1.2, 5.2, 1.2, -2.8, -0.5,
  3.9, 0.9, -3.6, -1.0, 4.5, 1.0, -3.0, -0.7, 3.0, 0.6, -3.4, -0.8, 3.6, 0.8, -4.0, -1.1, 2.7, 0.5, -3.2, -0.8,
  4.2, 1.0, -2.6, -0.5, 3.4, 0.7, -3.8, -1.0, 3.1, 0.6, -4.2, -1.2, 2.9, 0.5, -3.0, -0.7, 3.3, 0.7, -3.5, -0.9,
  2.5, 0.4, -4.3, -1.2, 3.2, 0.7, -2.9, -0.6, 3.0, 0.6, -3.7, -1.0, 2.8, 0.5, -3.3, -0.8, 3.1, 0.6, -2.6, -0.5,
  2.4
];
var testGyroY = [
  0.5, 0.1, -1.5, -0.4, 1.2, 0.3, -2.4, -0.7, 1.0, 0.2, -1.8, -0.5, 1.4, 0.4, -1.1, -0.2, 0.9, 0.1, -2.2, -0.6,
  1.3, 0.3, -1.6, -0.4, 1.1, 0.2, -1.3, -0.3, 1.5, 0.4, -2.0, -0.6, 0.8, 0.1, -1.4, -0.3, 1.2, 0.3, -1.7, -0.5,
  1.0, 0.2, -1.2, -0.3, 1.4, 0.4, -1.9, -0.5, 1.1, 0.2, -1.0, -0.2, 1.3, 0.3, -1.5, -0.4, 0.9, 0.1, -1.8, -0.5,
  1.2, 0.3, -1.1, -0.2, 1.5, 0.4, -1.6, -0.4, 1.0, 0.2, -2.1, -0.6, 1.3, 0.3, -1.2, -0.3, 1.1, 0.2, -1.4, -0.4,
  1.4, 0.4, -1.7, -0.5, 0.9, 0.1, -1.0, -0.2, 1.2, 0.3, -1.5, -0.4, 1.0, 0.2, -1.3, -0.3, 1.3, 0.3, -1.1, -0.3,
  0.2, 0.0, -0.3, -0.1, 0.3, 0.1, -0.2, 0.0, 0.2, 0.0, -0.3, -0.1, 0.1, 0.0, -0.2, 0.0, 0.3, 0.1, -0.3, -0.1,
  0.2, 0.0, -0.4, -0.1, 0.3, 0.1, -0.2, 0.0, 0.4, 0.1, -0.3, -0.1, 0.2, 0.0, -0.4, -0.1, 0.3, 0.1, -0.3, -0.1,
  0.4, 0.1, -0.5, -0.1, 0.3, 0.1, -0.4, -0.1, 0.2, 0.0, -0.5, -0.2, 0.4, 0.1, -0.6, -0.2, 0.3, 0.1, -0.7, -0.2,
  0.5, 0.1, -0.9, -0.3, 0.4, 0.1, -1.0, -0.3, 0.3, 0.0, -0.8, -0.2, 0.6, 0.2, -0.5, -0.1, 0.5, 0.1, -0.7, -0.2,
  0.7, 0.2, -0.6, -0.1, 0.6, 0.1, -0.8, -0.2, 0.8, 0.2, -0.5, -0.1, 0.7, 0.2, -0.9, -0.3, 0.9, 0.3, -0.6, -0.1,
  2.3, 0.5, -2.6, -0.6, 2.0, 0.4, -2.2, -0.5, 2.8, 0.7, -2.9, -0.8, 2.4, 0.5, -2.0, -0.4, 2.6, 0.6, -2.7, -0.7,
  2.1, 0.4, -2.4, -0.6, 2.9, 0.7, -2.1, -0.4, 2.2, 0.5, -2.8, -0.7, 2.5, 0.6, -2.3, -0.5, 2.7, 0.6, -3.0, -0.8,
  2.0, 0.4, -2.5, -0.6, 2.4, 0.5, -2.2, -0.5, 2.8, 0.7, -2.6, -0.6, 2.2, 0.5, -2.9, -0.7, 2.6, 0.6, -2.1, -0.4,
  2.3, 0.5, -2.7, -0.7, 2.9, 0.7, -2.4, -0.6, 2.1, 0.4, -2.3, -0.5, 2.5, 0.6, -2.8, -0.7, 2.7, 0.6, -2.0, -0.4,
  2.4, 0.5, -2.6, -0.6, 2.2, 0.5, -3.1, -0.8, 2.6, 0.6, -2.4, -0.6, 2.9, 0.7, -2.2, -0.5, 2.3, 0.5, -2.7, -0.7,
  2.5, 0.6, -2.5, -0.6, 2.8, 0.7, -2.3, -0.5, 2.1, 0.4, -2.9, -0.7, 2.7, 0.6, -2.1, -0.4, 2.4, 0.5, -2.6, -0.6,
  2.2, 0.5, -2.4, -0.6, 2.6, 0.6, -2.8, -0.7, 2.9, 0.7, -2.2, -0.5, 2.3, 0.5, -2.5, -0.6, 2.5, 0.6, -3.2, -0.8,
  2.7, 0.6, -2.3, -0.5, 2.0, 0.4, -2.7, -0.7, 2.6, 0.6, -2.9, -0.7, 2.4, 0.5, -2.1, -0.4, 2.8, 0.7, -2.6, -0.6,
  2.2, 0.5, -3.0, -0.8, 2.5, 0.6, -2.4, -0.6, 2.3, 0.5, -2.8, -0.7, 2.9, 0.7, -2.5, -0.6, 2.1, 0.4, -3.3, -0.9,
  2.6, 0.6, -2.2, -0.5, 2.4, 0.5, -3.5, -0.9, 2.8, 0.7, -2.7, -0.7, 2.2, 0.5, -3.6, -1.0, 2.5, 0.6, -2.3, -0.5,
  2.0
];
var testGyroZ = [
  2.7, 0.5, -2.6, -0.4, 2.4, 0.3, -2.9, -0.6, 3.1, 0.6, -2.4, -0.3, 2.8, 0.4, -3.0, -0.5, 3.3, 0.7, -2.7, -0.4,
  2.6, 0.4, -3.1, -0.6, 3.4, 0.7, -2.8, -0.5, 3.0, 0.5, -3.3, -0.7, 2.9, 0.4, -3.7, -0.8, 3.5, 0.6, -3.4, -0.6,
  4.0, 0.8, -3.6, -0.7, 3.2, 0.5, -3.9, -0.8, 3.8, 0.7, -3.2, -0.5, 4.8, 1.0, -4.3, -0.9, 4.4, 0.8, -4.0, -0.8,
  4.6, 0.9, -4.5, -0.9, 4.3, 0.8, -4.7, -1.0, 4.5, 0.9, -3.9, -0.7, 4.1, 0.7, -4.4, -0.9, 4.2, 0.8, -4.6, -1.0,
  3.6, 0.6, -4.1, -0.8, 4.5, 0.9, -3.8, -0.7, 4.9, 1.0, -4.6, -0.9, 4.7, 0.9, -4.2, -0.8, 4.9, 1.0, -4.9, -1.0,
  0.2, 0.0, -0.2, 0.0, 0.1, 0.0, -0.3, -0.1, 0.3, 0.1, -0.1, 0.0, 0.2, 0.0, -0.3, -0.1, 0.1, 0.0, -0.2, 0.0,
  0.3, 0.1, -0.2, 0.0, 0.1, 0.0, -0.4, -0.1, 0.2, 0.0, -0.1, 0.0, 0.3, 0.1, -0.2, 0.0, 0.2, 0.0, -0.3, -0.1,
  0.1, 0.0, -0.2, 0.0, 0.4, 0.1, -0.1, 0.0, 0.8, 1.2, 0.6, 0.3, 0.3, 0.0, -0.2, 0.0, 0.4, 0.1, -0.3, -0.1,
  0.5, 0.1, -0.1, 0.0, 0.3, 0.1, -0.4, -0.1, 0.4, 0.1, -0.2, 0.0, 0.5, 0.1, -0.3, -0.1, 0.2, 0.0, -0.5, -0.1,
  0.4, 0.1, -0.2, 0.0, 0.6, 0.1, -0.3, -0.1, 0.3, 0.0, -0.4, -0.1, 0.5, 0.1, -0.2, 0.0, 0.6, 0.1, -0.3, 0.0,
  1.9, 0.3, -5.0, -1.0, 2.0, 0.4, -4.6, -0.9, 1.7, 0.2, -4.8, -1.0, 1.8, 0.3, -4.3, -0.8, 2.1, 0.4, -5.1, -1.1,
  1.6, 0.2, -4.4, -0.9, 1.9, 0.3, -4.7, -1.0, 2.0, 0.4, -4.2, -0.8, 1.8, 0.3, -4.9, -1.0, 1.7, 0.2, -4.5, -0.9,
  2.1, 0.4, -4.6, -0.9, 1.9, 0.3, -4.3, -0.8, 1.8, 0.4, -2.4, -0.5, 2.2, 0.5, -2.0, -0.4, 2.4, 0.5, -1.8, -0.3,
  2.1, 0.4, -2.3, -0.5, 1.9, 0.3, -2.1, -0.4, 2.5, 0.5, -1.9, -0.3, 2.0, 0.4, -2.2, -0.5, 2.3, 0.5, -1.7, -0.3,
  2.4, 0.5, -2.0, -0.4, 1.8, 0.3, -2.3, -0.5, 2.2, 0.4, -1.9, -0.3, 2.6, 0.5, -2.1, -0.4, 2.0, 0.4, -2.2, -0.5,
  4.2, 1.0, -2.0, -0.4, 4.6, 1.1, -1.8, -0.3, 4.0, 0.9, -2.2, -0.5, 5.0, 1.2, -1.9, -0.4, 4.4, 1.0, -2.1, -0.4,
  4.8, 1.1, -2.0, -0.4, 3.9, 0.9, -1.7, -0.3, 5.4, 1.3, -2.2, -0.5, 4.5, 1.0, -1.9, -0.4, 4.1, 0.9, -2.3, -0.5,
  5.3, 1.2, -1.8, -0.3, 4.7, 1.0, -2.0, -0.4, 5.5, 1.2, -2.1, -0.4, 1.9, 0.4, -2.4, -0.5, 2.2, 0.5, -1.8, -0.3,
  2.0, 0.4, -2.2, -0.5, 1.7, 0.3, -2.5, -0.5, 2.3, 0.5, -1.9, -0.4, 2.1, 0.4, -2.0, -0.4, 1.8, 0.3, -2.3, -0.5,
  2.4, 0.5, -1.7, -0.3, 2.0, 0.4, -2.6, -0.6, 1.9, 0.3, -2.1, -0.4, 2.2, 0.5, -1.8, -0.3, 2.0, 0.4, -2.4, -0.5,
  1.6
];

// ---- drawing ----------------------------------------------------------
var svg = d3.select("#chart");
var font = '"Liberation Sans", Arial, Helvetica, sans-serif';
var colors = ["#3b4a9f", "#0b7b3b", "#e3111c"];
var ink = "#1c1c1c";

var panels = [
  { left: 66.7, top: 42.7, width: 424.3, height: 265.6,
    xDomain: [0, 200], xTicks: trainTimeTicks, yDomain: [-30, 30], yTicks: accTicks,
    step: trainStep, series: [trainAccX, trainAccY, trainAccZ],
    title: "Training Data", yLabel: "Acceleration [m/s2]", yLabelX: 27 },
  { left: 625, top: 42.7, width: 425, height: 265.6,
    xDomain: [0, 100], xTicks: testTimeTicks, yDomain: [-30, 30], yTicks: accTicks,
    step: testStep, series: [testAccX, testAccY, testAccZ],
    title: "Test Data", yLabel: "Acceleration [m/s2]", yLabelX: 584.5 },
  { left: 66.7, top: 413.3, width: 424.3, height: 267.7,
    xDomain: [0, 200], xTicks: trainTimeTicks, yDomain: [-8, 8], yTicks: gyroTicks,
    step: trainStep, series: [trainGyroX, trainGyroY, trainGyroZ],
    xLabel: "Time [s]", yLabel: "Angular rate [rad/s]", yLabelX: 34.5 },
  // the legend sits over this panel's top tick label, so it is left out
  { left: 624, top: 417, width: 426, height: 265,
    xDomain: [0, 100], xTicks: testTimeTicks, yDomain: [-8, 8], yTicks: gyroTicks,
    step: testStep, series: [testGyroX, testGyroY, testGyroZ], hiddenYLabels: [8],
    xLabel: "Time [s]", yLabel: "Angular rate [rad/s]", yLabelX: 591.5 }
];

function styleAxis(g) {
  g.select(".domain").remove();
  g.attr("font-family", font).attr("font-size", 16);
  g.selectAll(".tick line").attr("stroke", ink).attr("stroke-width", 1);
  g.selectAll(".tick text").attr("fill", ink);
}

function drawPanel(p, k) {
  var g = svg.append("g");
  var right = p.left + p.width, bottom = p.top + p.height;
  var x = d3.scaleLinear().domain(p.xDomain).range([p.left, right]);
  var y = d3.scaleLinear().domain(p.yDomain).range([bottom, p.top]);
  var hidden = p.hiddenYLabels || [];
  var plain = function (d) { return String(d); };   // hyphen minus like the original

  // dotted grid
  g.append("g").selectAll("line").data(p.xTicks).join("line")
    .attr("x1", x).attr("x2", x).attr("y1", p.top).attr("y2", bottom)
    .attr("stroke", "#9a9a9a").attr("stroke-dasharray", "1,1.5");
  g.append("g").selectAll("line").data(p.yTicks).join("line")
    .attr("y1", y).attr("y2", y).attr("x1", p.left).attr("x2", right)
    .attr("stroke", "#9a9a9a").attr("stroke-dasharray", "1,1.5");

  svg.append("clipPath").attr("id", "clip" + k)
    .append("rect").attr("x", p.left).attr("y", p.top)
    .attr("width", p.width).attr("height", p.height);

  var line = d3.line()
    .x(function (d, i) { return x(i * p.step); })
    .y(function (d) { return y(d); });

  var lines = g.append("g").attr("clip-path", "url(#clip" + k + ")");
  p.series.forEach(function (values, si) {
    lines.append("path").datum(values)
      .attr("d", line)
      .attr("fill", "none")
      .attr("stroke", colors[si])
      .attr("stroke-width", 1.5)
      .attr("stroke-linejoin", "bevel");
  });

  // box and inward ticks on every side
  g.append("g").attr("transform", "translate(0," + bottom + ")")
    .call(d3.axisBottom(x).tickValues(p.xTicks).tickFormat(plain)
      .tickSizeInner(-5).tickSizeOuter(0).tickPadding(9.5))
    .call(styleAxis);
  g.append("g").attr("transform", "translate(0," + p.top + ")")
    .call(d3.axisTop(x).tickValues(p.xTicks).tickSizeInner(-5).tickSizeOuter(0).tickFormat(""))
    .call(styleAxis);
  g.append("g").attr("transform", "translate(" + p.left + ",0)")
    .call(d3.axisLeft(y).tickValues(p.yTicks)
      .tickFormat(function (d) { return hidden.indexOf(d) >= 0 ? "" : String(d); })
      .tickSizeInner(-5).tickSizeOuter(0).tickPadding(5.5))
    .call(styleAxis);
  g.append("g").attr("transform", "translate(" + right + ",0)")
    .call(d3.axisRight(y).tickValues(p.yTicks).tickSizeInner(-5).tickSizeOuter(0).tickFormat(""))
    .call(styleAxis);
  g.append("rect").attr("x", p.left).attr("y", p.top)
    .attr("width", p.width).attr("height", p.height)
    .attr("fill", "none").attr("stroke", ink).attr("stroke-width", 1.3);

  var cx = p.left + p.width / 2;
  if (p.title) {
    g.append("text").attr("x", cx).attr("y", 28).attr("text-anchor", "middle")
      .attr("font-family", font).attr("font-size", 24).attr("fill", ink).text(p.title);
  }
  if (p.xLabel) {
    g.append("text").attr("x", cx).attr("y", 728).attr("text-anchor", "middle")
      .attr("font-family", font).attr("font-size", 20).attr("fill", ink).text(p.xLabel);
  }
  g.append("text")
    .attr("transform", "translate(" + p.yLabelX + "," + (p.top + p.height / 2) + ") rotate(-90)")
    .attr("text-anchor", "middle")
    .attr("font-family", font).attr("font-size", 20).attr("fill", ink).text(p.yLabel);

  return { x: x, y: y };
}

var scales = panels.map(drawPanel);

// dash-dot separators running from the acceleration plot down into the rate plot
function drawSeparators(top, low, bounds, spans) {
  bounds.forEach(function (t, i) {
    svg.append("line")
      .attr("x1", top.x(t)).attr("x2", top.x(t))
      .attr("y1", top.y(spans[i][0])).attr("y2", low.y(spans[i][1]))
      .attr("stroke", "#161616").attr("stroke-width", 3.5)
      .attr("stroke-dasharray", "27,10,3,10,3,11");
  });
}
drawSeparators(scales[0], scales[2], trainModeBounds, [[-9, 5], [-6.5, 5.5]]);
drawSeparators(scales[1], scales[3], testModeBounds, [[-4.7, 3.3], [-6.5, 2.7]]);

// mode captions
function drawCaptions(labels, anchors, gap) {
  labels.forEach(function (rows, i) {
    var t = svg.append("text").attr("font-family", font).attr("font-size", 26)
      .attr("fill", ink).attr("text-anchor", "middle");
    rows.forEach(function (r, j) {
      t.append("tspan").attr("x", anchors[i][0]).attr("y", anchors[i][1] + j * gap[i]).text(r);
    });
  });
}
drawCaptions(trainModeLabels, [[117.5, 373], [233, 373], [371, 373]], [33.5, 33.5, 33.5]);
drawCaptions(testModeLabels, [[685, 349], [787, 373], [946, 373]], [32, 33.5, 33.5]);

// legend
var lg = svg.append("g");
lg.append("rect").attr("x", 437).attr("y", 337).attr("width", 206).attr("height", 102)
  .attr("fill", "#fff").attr("stroke", ink).attr("stroke-width", 1.2);
seriesNames.forEach(function (name, i) {
  var yy = 355 + i * 32.5;
  lg.append("line").attr("x1", 447).attr("x2", 497).attr("y1", yy).attr("y2", yy)
    .attr("stroke", colors[i]).attr("stroke-width", 1).attr("opacity", 0.8);
  lg.append("text").attr("x", 502).attr("y", yy + 10)
    .attr("font-family", font).attr("font-size", 24).attr("fill", ink).text(name);
});
</script>
</body>
</html>
